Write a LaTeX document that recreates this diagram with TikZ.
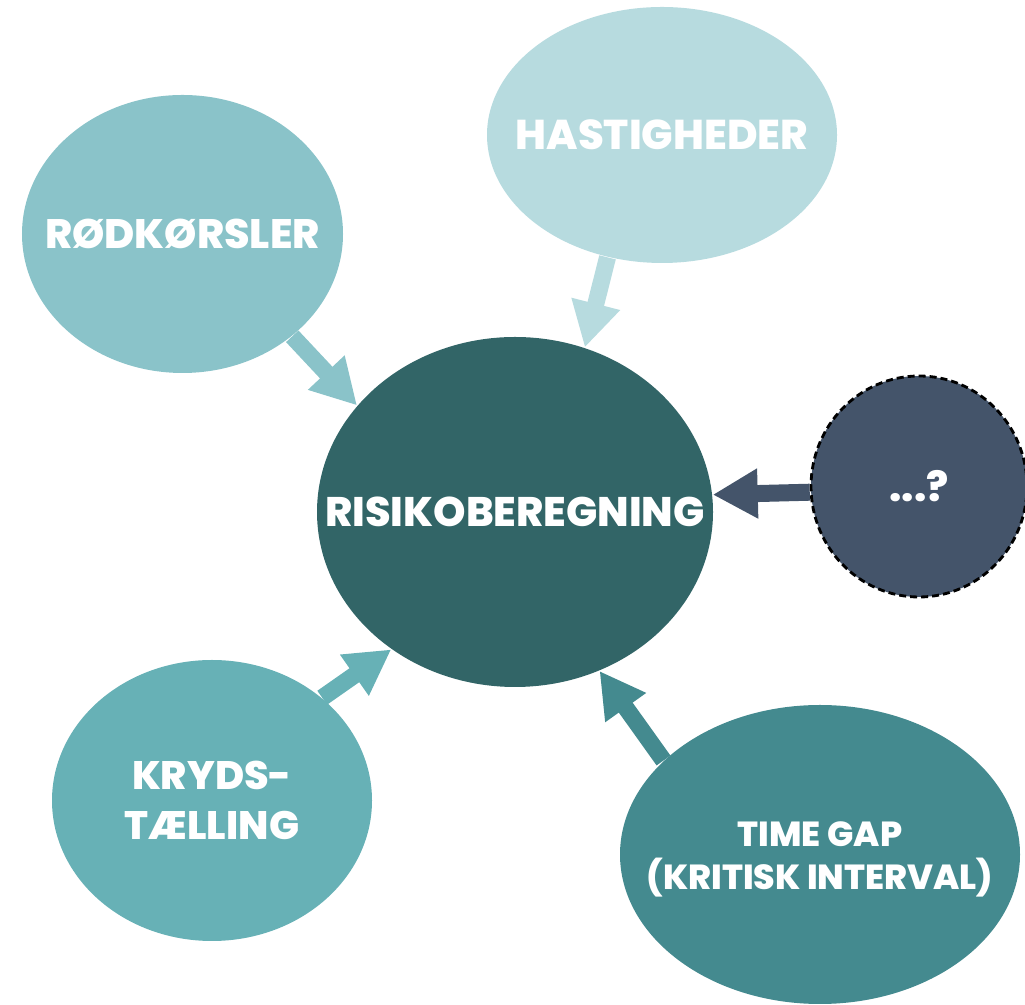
\documentclass[tikz,border=0pt]{standalone}
\usepackage{fontspec}
\setmainfont{Poppins}[BoldFont={Poppins ExtraBold}]
\usetikzlibrary{arrows.meta,shapes.geometric}
\definecolor{roedC}{HTML}{8AC3C9}
\definecolor{hastC}{HTML}{B7DBDF}
\definecolor{risikoC}{HTML}{326567}
\definecolor{ukendtC}{HTML}{44546A}
\definecolor{krydsC}{HTML}{67B1B6}
\definecolor{timeC}{HTML}{448A8F}
\tikzset{
  bubble/.style={
    shape = ellipse,
    inner sep = 0pt
  },
  tekst/.style={
    text = white,
    align = center,
    font = \bfseries\fontsize{11.7}{14}\selectfont
  },
  feed/.style={
    line width = 0.17cm,
    -{Triangle[width=0.47cm,length=0.45cm]}
  },
}
\begin{document}
\begin{tikzpicture}
    \useasboundingbox (0,0) rectangle (10.25,10.05);
    \node[bubble, fill=risikoC, minimum width=3.96cm, minimum height=3.5cm,
      label={[tekst, font=\bfseries\fontsize{11.75}{14}\selectfont]center:RISIKOBEREGNING}] (risiko) at (5.15,4.93) {};
    \node[bubble, fill=roedC, minimum width=3.21cm, minimum height=2.78cm,
      label={[tekst]center:RØDKØRSLER}] (roed) at (1.825,7.71) {};
    \node[bubble, fill=hastC, minimum width=3.5cm, minimum height=2.56cm,
      label={[tekst, font=\bfseries\fontsize{11.85}{14}\selectfont]center:HASTIGHEDER}] (hast) at (6.62,8.70) {};
    \node[bubble, fill=ukendtC, draw=black, line width=0.8pt,
      dash pattern=on 0.07cm off 0.04cm, minimum width=2.16cm, minimum height=2.21cm,
      label={[tekst]center:...?}] (ukendt) at (9.19,5.185) {};
    \node[bubble, fill=krydsC, minimum width=3.2cm, minimum height=2.81cm,
      label={[tekst, font=\bfseries\fontsize{11.3}{14.2}\selectfont]center:KRYDS-\\TÆLLING}] (kryds) at (2.12,2.045) {};
    \node[bubble, fill=timeC, minimum width=4cm, minimum height=2.99cm,
      label={[tekst, yshift=-0.05cm, font=\bfseries\fontsize{9.9}{12.2}\selectfont]center:TIME GAP\\(KRITISK INTERVAL)}] (time) at (8.20,1.505) {};
    % pile ind mod midten
    \draw[feed, roedC] (roed.-43) -- (risiko.146.5);
    \draw[feed, hastC] (hast.-114) -- (risiko.67.5);
    \draw[feed, ukendtC] (ukendt.183.5) -- (risiko.5.5);
    \draw[feed, krydsC] (kryds.43) -- (risiko.-132.6);
    \draw[feed, timeC] (time.149.8) -- (risiko.-62.9);
\end{tikzpicture}
\end{document}
